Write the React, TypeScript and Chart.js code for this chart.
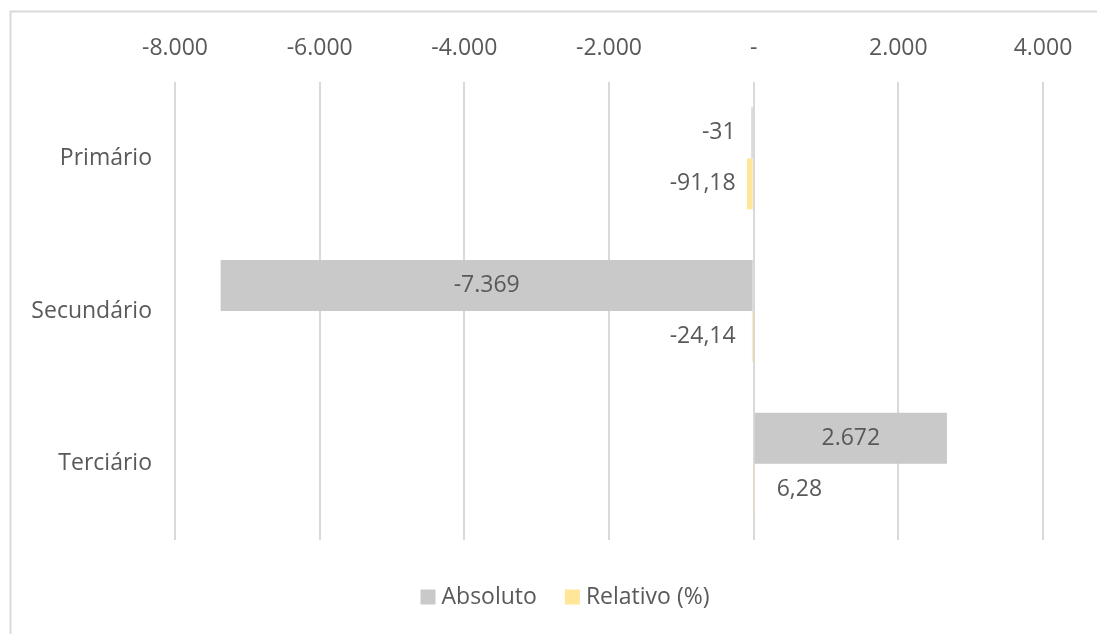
import { useEffect, useRef } from "react";
import { Chart, registerables } from "chart.js";

Chart.register(...registerables);

// Variação do emprego por setor
const sectors = ["Primário", "Secundário", "Terciário"];
const seriesNames = ["Absoluto", "Relativo (%)"];
const absoluteChange = [-31, -7369, 2672];
const relativeChange = [-91.18, -24.14, 6.28];

// Eixo horizontal
const axisMin = -8000;
const axisMax = 4000;
const axisStep = 2000;

const seriesColors = ["#c9c9c9", "#ffe699"];
const textColor = "#595959";
const gridColor = "#d9d9d9";
const fontFamily = "'Open Sans', 'Noto Sans', sans-serif";
const fontSize = 23;

function formatThousands(v: number): string {
  const digits = Math.abs(Math.round(v))
    .toString()
    .replace(/\B(?=(\d{3})+(?!\d))/g, ".");
  return (v < 0 ? "-" : "") + digits;
}

function formatDecimal(v: number): string {
  return v.toFixed(2).replace(".", ",");
}

const labelFormatters = [formatThousands, formatDecimal];

// Moldura do gráfico e fundo branco
const framePlugin = {
  id: "frame",
  beforeDraw(chart: Chart) {
    const { ctx, width, height } = chart;
    ctx.save();
    ctx.fillStyle = "#ffffff";
    ctx.fillRect(0, 0, width, height);
    ctx.strokeStyle = gridColor;
    ctx.lineWidth = 2;
    ctx.strokeRect(10.5, 11.5, width + 100, height + 100);
    ctx.restore();
  },
};

// Rótulos de valor em cada barra
const valueLabelPlugin = {
  id: "valueLabels",
  afterDatasetsDraw(chart: Chart) {
    const { ctx } = chart;
    ctx.save();
    ctx.font = `${fontSize}px ${fontFamily}`;
    ctx.fillStyle = textColor;
    ctx.textBaseline = "middle";
    chart.data.datasets.forEach((ds, di) => {
      const meta = chart.getDatasetMeta(di);
      meta.data.forEach((el: any, i: number) => {
        const value = ds.data[i] as number;
        const text = labelFormatters[di](value);
        const w = ctx.measureText(text).width;
        const { x, base, y } = el.getProps(["x", "base", "y"], true);
        const len = Math.abs(x - base);
        if (len > w + 10) {
          ctx.textAlign = "center";
          ctx.fillText(text, (x + base) / 2, y);
        } else if (value < 0) {
          ctx.textAlign = "right";
          ctx.fillText(text, base - 17, y);
        } else {
          ctx.textAlign = "left";
          ctx.fillText(text, base + 22, y);
        }
      });
    });
    ctx.restore();
  },
};

// Legenda inferior
const legendPlugin = {
  id: "bottomLegend",
  afterDraw(chart: Chart) {
    const { ctx } = chart;
    const box = 15;
    const textGap = 6;
    const itemGap = 28;
    const centerX = 565;
    const centerY = 597;
    ctx.save();
    ctx.font = `${fontSize}px ${fontFamily}`;
    ctx.textBaseline = "middle";
    ctx.textAlign = "left";
    const items = chart.data.datasets.map((ds) => ({
      label: ds.label as string,
      color: ds.backgroundColor as string,
      w: ctx.measureText(ds.label as string).width,
    }));
    const total =
      items.reduce((s, it) => s + box + textGap + it.w, 0) +
      itemGap * (items.length - 1);
    let cx = centerX - total / 2;
    items.forEach((it) => {
      ctx.fillStyle = it.color;
      ctx.fillRect(cx, centerY - box / 2, box, box);
      ctx.fillStyle = textColor;
      ctx.fillText(it.label, cx + box + textGap, centerY);
      cx += box + textGap + it.w + itemGap;
    });
    ctx.restore();
  },
};

export default function App() {
  const canvasRef = useRef<HTMLCanvasElement | null>(null);

  useEffect(() => {
    if (!canvasRef.current) return;
    Chart.defaults.font.family = fontFamily;
    Chart.defaults.font.size = fontSize;
    Chart.defaults.color = textColor;

    const chart = new Chart(canvasRef.current, {
      type: "bar",
      data: {
        labels: sectors,
        datasets: [
          {
            label: seriesNames[0],
            data: absoluteChange,
            backgroundColor: seriesColors[0],
            borderWidth: 0,
            barPercentage: 1,
            categoryPercentage: 0.668,
          },
          {
            label: seriesNames[1],
            data: relativeChange,
            backgroundColor: seriesColors[1],
            borderWidth: 0,
            barPercentage: 1,
            categoryPercentage: 0.668,
          },
        ],
      },
      options: {
        indexAxis: "y",
        responsive: false,
        animation: false,
        layout: { padding: { left: 0, top: 0, right: 54, bottom: 94 } },
        plugins: {
          legend: { display: false },
          tooltip: { enabled: false },
        },
        scales: {
          x: {
            type: "linear",
            position: "top",
            min: axisMin,
            max: axisMax,
            ticks: {
              stepSize: axisStep,
              padding: 20,
              color: textColor,
              callback: (v: any) =>
                Number(v) === 0 ? "-" : formatThousands(Number(v)),
            },
            grid: { color: gridColor, lineWidth: 2, drawTicks: false },
            border: { display: false },
            afterFit: (scale: any) => {
              scale.height = 82;
            },
          },
          y: {
            type: "category",
            ticks: { padding: 23, color: textColor },
            grid: { display: false, drawTicks: false },
            border: { display: false },
            afterFit: (scale: any) => {
              scale.width = 175;
            },
          },
        },
      },
      plugins: [framePlugin, valueLabelPlugin, legendPlugin],
    });

    return () => chart.destroy();
  }, []);

  return (
    <div style={{ position: "absolute", left: 0, top: 0, width: 1097, height: 634 }}>
      <canvas ref={canvasRef} width={1097} height={634} style={{ display: "block" }} />
    </div>
  );
}
